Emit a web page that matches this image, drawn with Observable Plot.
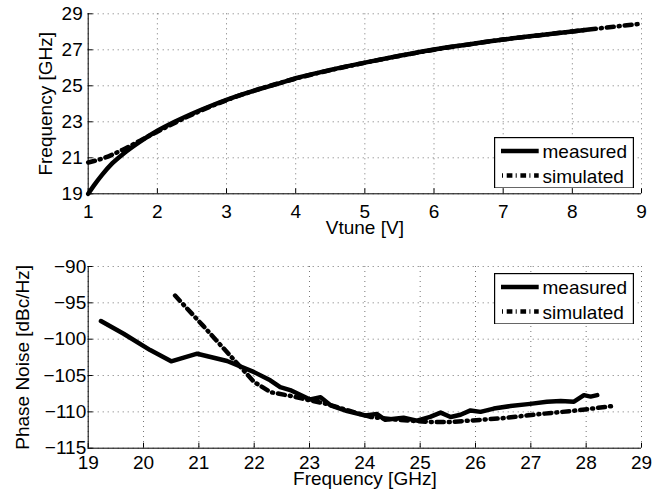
<!DOCTYPE html>
<html><head><meta charset="utf-8">
<script src="https://cdn.jsdelivr.net/npm/d3@7"></script>
<script src="https://cdn.jsdelivr.net/npm/@observablehq/plot@0.6"></script>
<style>
html,body{margin:0;padding:0;background:#fff;}
#fig{position:relative;width:662px;height:497px;background:#fff;}
#fig > svg{display:block;}
.legend{position:absolute;}
</style></head><body><div id="fig"></div>
<script>
// ---------- Top panel: tuning curve ----------
const vtuneTicks = [1, 2, 3, 4, 5, 6, 7, 8, 9];
const freqTicks = [19, 21, 23, 25, 27, 29];
const vtuneMeasured = [1.0, 1.1, 1.2, 1.35, 1.5, 1.75, 2.0, 2.25, 2.5, 2.75, 3.0, 3.25, 3.5, 3.75, 4.0, 4.5, 5.0, 5.5, 6.0, 6.5, 7.0, 7.5, 8.0, 8.22];
const freqMeasured = [19.0, 19.55, 20.05, 20.7, 21.2, 21.9, 22.5, 23.0, 23.45, 23.85, 24.22, 24.55, 24.85, 25.12, 25.42, 25.88, 26.29, 26.67, 27.02, 27.3, 27.57, 27.8, 28.02, 28.12];
const vtuneSimulated = [1.0, 1.25, 1.5, 1.75, 2.0, 2.5, 3.0, 3.5, 4.0, 4.5, 5.0, 5.5, 6.0, 6.5, 7.0, 7.5, 8.0, 8.5, 9.0];
const freqSimulated = [20.74, 21.02, 21.45, 21.95, 22.45, 23.4, 24.2, 24.85, 25.4, 25.87, 26.28, 26.66, 27.0, 27.3, 27.57, 27.8, 28.02, 28.24, 28.45];

// ---------- Bottom panel: phase noise ----------
const pnFreqTicks = [19, 20, 21, 22, 23, 24, 25, 26, 27, 28, 29];
const pnTicks = [-115, -110, -105, -100, -95, -90];
const pnFreqMeasured = [19.23, 19.64, 20.12, 20.5, 20.97, 21.51, 21.99, 22.29, 22.47, 22.65, 23.01, 23.2, 23.38, 23.68, 24.01, 24.22, 24.37, 24.7, 24.94, 25.18, 25.37, 25.55, 25.73, 25.91, 26.09, 26.33, 26.63, 26.99, 27.29, 27.54, 27.78, 27.96, 28.08, 28.2];
const pnMeasured = [-97.5, -99.25, -101.5, -103.05, -102.0, -103.0, -104.5, -105.66, -106.6, -107.0, -108.3, -108.0, -109.1, -109.9, -110.5, -110.3, -111.1, -110.8, -111.2, -110.7, -110.1, -110.7, -110.4, -109.8, -110.0, -109.55, -109.2, -108.9, -108.6, -108.5, -108.6, -107.7, -107.9, -107.7];
const pnFreqSimulated = [20.57, 21.07, 21.57, 22.0, 22.3, 22.65, 23.0, 23.3, 23.7, 24.1, 24.6, 25.2, 25.55, 25.9, 26.45, 27.17, 27.84, 28.47];
const pnSimulated = [-94.0, -98.1, -102.3, -105.9, -107.3, -107.8, -108.4, -108.9, -109.8, -110.7, -111.1, -111.4, -111.4, -111.2, -110.9, -110.3, -109.8, -109.2];

const seriesNames = ["measured", "simulated"];
const axisTitles = {topX: "Vtune [V]", topY: "Frequency [GHz]", botX: "Frequency [GHz]", botY: "Phase Noise [dBc/Hz]"};

const font = '"Liberation Sans", Arial, Helvetica, sans-serif';
const simDash = "7,5,1,5";
const lineW = 4.5;
const zip = (xs, ys) => xs.map((x, i) => ({x, y: ys[i]}));
const gridStyle = {stroke: "#000", strokeOpacity: 0.55, strokeDasharray: "1,4", strokeWidth: 1};

function panel(o) {
  return Plot.plot({
    width: 662, height: o.height,
    marginLeft: 87.7, marginRight: 21, marginTop: o.mt, marginBottom: o.mb,
    style: {fontSize: "19px", fontFamily: font, background: "#fff", color: "#000", overflow: "visible"},
    x: {domain: [o.xTicks[0], o.xTicks[o.xTicks.length - 1]]},
    y: {domain: [o.yTicks[0], o.yTicks[o.yTicks.length - 1]]},
    marks: [
      Plot.gridX(o.xTicks, gridStyle),
      Plot.gridY(o.yTicks, gridStyle),
      Plot.ruleX([o.xTicks[0]], {stroke: "#000", strokeWidth: 1}),
      Plot.ruleY([o.yTicks[0]], {stroke: "#000", strokeWidth: 1}),
      Plot.axisX(o.xTicks, {tickSize: -5, tickPadding: o.xPad, label: null, fontSize: 19}),
      Plot.axisY(o.yTicks, {tickSize: -5, tickPadding: o.yPad, label: null, fontSize: 19}),
      Plot.line(o.sim, {x: "x", y: "y", stroke: "#000", strokeWidth: lineW, strokeDasharray: simDash, curve: o.curve}),
      Plot.line(o.meas, {x: "x", y: "y", stroke: "#000", strokeWidth: lineW, curve: o.curve}),
      Plot.text([o.xLabel], {text: d => d, frameAnchor: "bottom", textAnchor: "middle", lineAnchor: "top", dy: o.xTitleDy, fontSize: 19, fill: "#000"}),
      Plot.text([o.yLabel], {text: d => d, frameAnchor: "left", textAnchor: "middle", lineAnchor: "middle", rotate: -90, dx: o.yTitleDx, fontSize: 19, fill: "#000"})
    ]
  });
}

const fig = document.getElementById("fig");
fig.append(panel({
  height: 245, mt: 13.3, mb: 51.7,
  xTicks: vtuneTicks, yTicks: freqTicks,
  meas: zip(vtuneMeasured, freqMeasured), sim: zip(vtuneSimulated, freqSimulated),
  curve: "monotone-x", xPad: 15.7, yPad: 10.5,
  xLabel: axisTitles.topX, yLabel: axisTitles.topY, xTitleDy: 26.7, yTitleDx: -42.5
}));
fig.append(panel({
  height: 252, mt: 21, mb: 49.3,
  xTicks: pnFreqTicks, yTicks: pnTicks,
  meas: zip(pnFreqMeasured, pnMeasured), sim: zip(pnFreqSimulated, pnSimulated),
  curve: "linear", xPad: 12.3, yPad: 7,
  xLabel: axisTitles.botX, yLabel: axisTitles.botY, xTitleDy: 23, yTitleDx: -65.7
}));

function legend(left, top) {
  const w = 140, h = 51.6;
  const svg = d3.create("svg").attr("class", "legend").attr("width", w).attr("height", h)
    .style("left", left + "px").style("top", top + "px");
  svg.append("rect").attr("x", 0.6).attr("y", 0.6).attr("width", w - 1.2).attr("height", h - 1.2)
    .attr("fill", "#fff").attr("stroke", "#000").attr("stroke-width", 1.2);
  const rows = [14, 38.5];
  seriesNames.forEach((name, i) => {
    const line = svg.append("line").attr("x1", i ? 8 : 7).attr("x2", 44.7).attr("y1", rows[i]).attr("y2", rows[i])
      .attr("stroke", "#000").attr("stroke-width", lineW);
    if (i) line.attr("stroke-dasharray", "1,3.7,5.7,3.3");
    svg.append("text").attr("x", 48.5).attr("y", rows[i] + 7.3).text(name)
      .attr("font-family", font).attr("font-size", 19).attr("fill", "#000");
  });
  fig.append(svg.node());
}
legend(494.3, 136.7);
legend(494.3, 272.7);
</script></body></html>
